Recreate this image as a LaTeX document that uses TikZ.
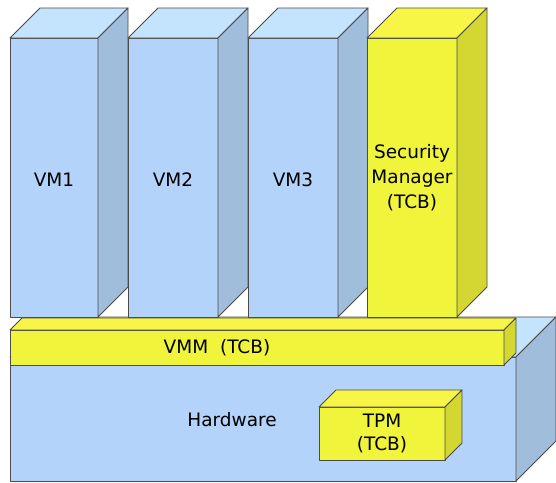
\documentclass[tikz,border=0pt]{standalone}
\usepackage{fontspec}
\setmainfont{DejaVu Sans}
\definecolor{bfront}{RGB}{180,211,250}
\definecolor{btop}{RGB}{196,227,253}
\definecolor{bside}{RGB}{160,189,219}
\definecolor{yfront}{RGB}{240,245,60}
\definecolor{ytop}{RGB}{247,245,70}
\definecolor{yside}{RGB}{212,214,50}
\definecolor{edge}{RGB}{75,75,75}
\tikzset{face/.style={draw=edge,line width=0.9pt,line join=round},
  lbl/.style={font=\fontsize{18.5}{25}\selectfont,align=center,inner sep=0pt}}
% x1 y1 x2 y2 depth front top side
\newcommand{\mybox}[8]{%
  \filldraw[face,fill=#6] (#1,#2) rectangle (#3,#4);
  \filldraw[face,fill=#7] (#1,#2) -- ({#1+#5},{#2-#5}) -- ({#3+#5},{#2-#5}) -- (#3,#2) -- cycle;
  \filldraw[face,fill=#8] (#3,#2) -- ({#3+#5},{#2-#5}) -- ({#3+#5},{#4-#5}) -- (#3,#4) -- cycle;
}
\begin{document}
\begin{tikzpicture}[x=1pt,y=-1pt]
\useasboundingbox (0,0) rectangle (556,482);
% Hardware
\mybox{10}{357}{516}{481}{40}{bfront}{btop}{bside}
% VMM
\mybox{10}{330}{504}{365}{12}{yfront}{ytop}{yside}
% VMs
\mybox{10}{38}{98}{317}{30}{bfront}{btop}{bside}
\mybox{128}{38}{218}{317}{30}{bfront}{btop}{bside}
\mybox{248}{38}{338}{317}{30}{bfront}{btop}{bside}
\mybox{367}{38}{457}{317}{30}{yfront}{ytop}{yside}
% TPM
\mybox{319}{407}{445}{460}{17}{yfront}{ytop}{yside}
% labels
\node[lbl] (vm1) at (54,180) {VM1};
\node[lbl] (vm2) at (173,180) {VM2};
\node[lbl] (vm3) at (293,180) {VM3};
\node[lbl] (sm) at (412,178) {Security\\Manager\\(TCB)};
\node[lbl] (vmm) at (217,348) {VMM\ \ (TCB)};
\node[lbl] (hw) at (232,420) {Hardware};
\node[lbl,font=\fontsize{18.5}{23}\selectfont] (tpm) at (382,433) {TPM\\(TCB)};
\end{tikzpicture}
\end{document}
